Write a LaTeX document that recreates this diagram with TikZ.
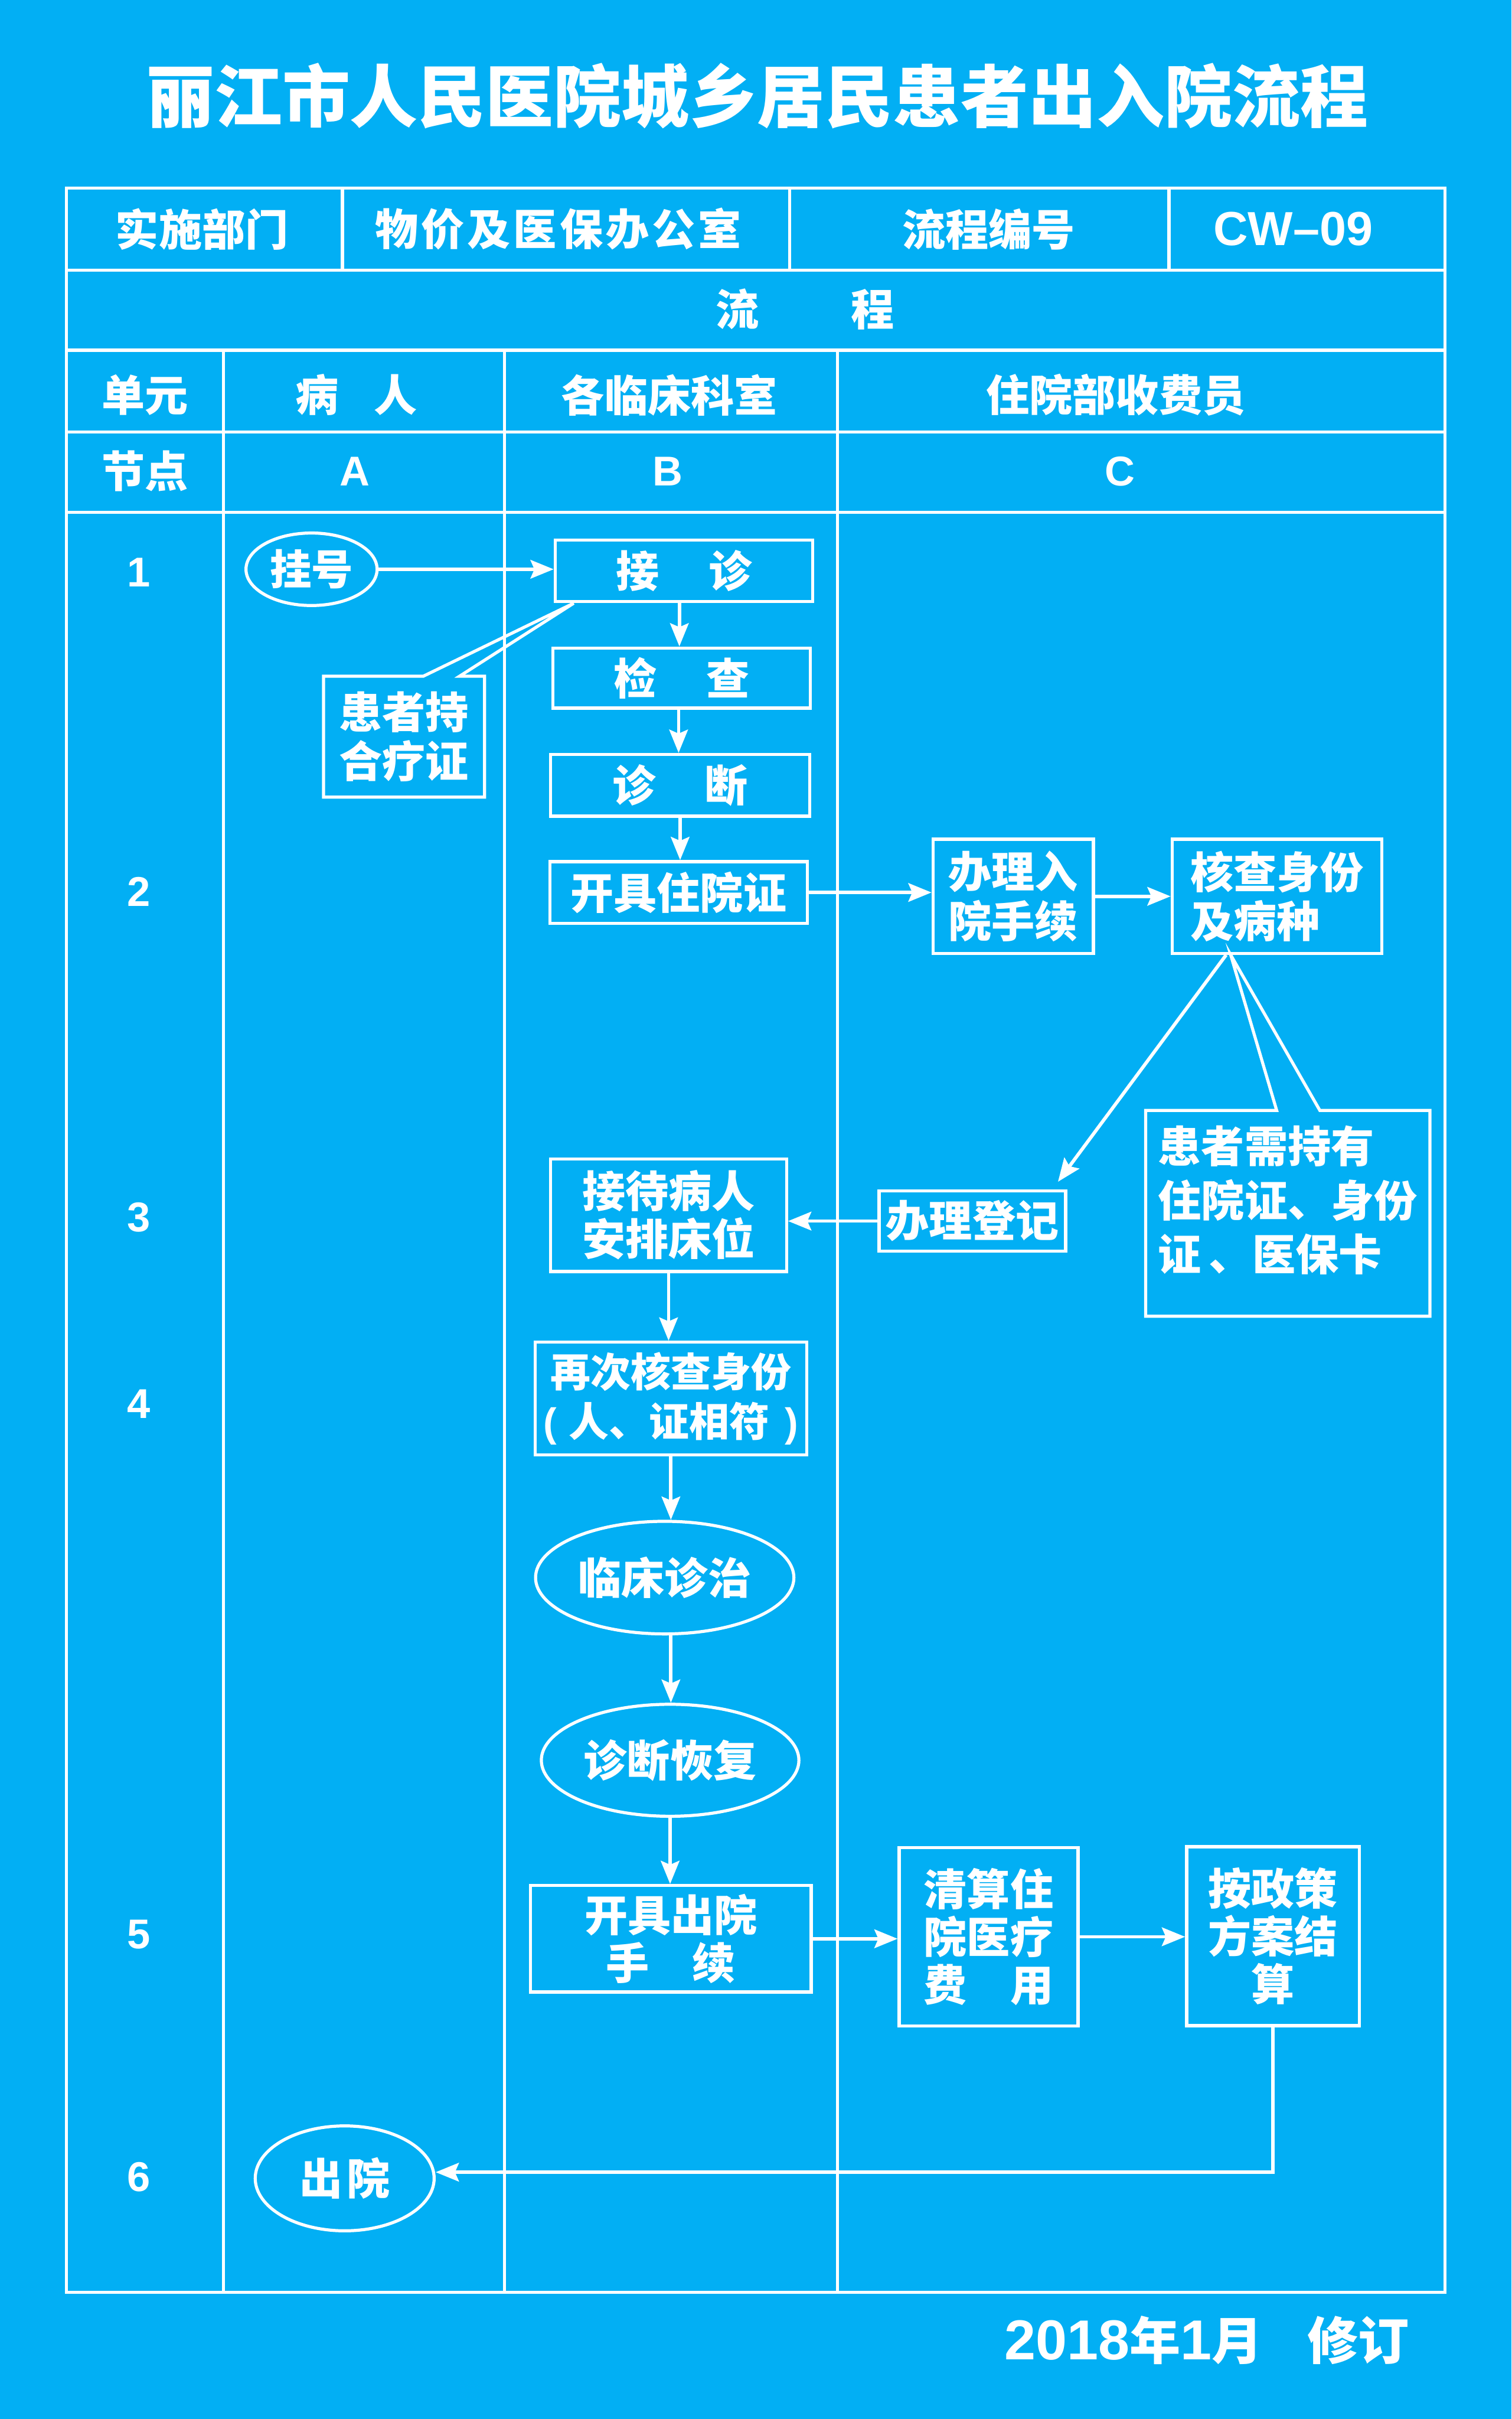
\documentclass[tikz,border=0pt]{standalone}
\usepackage{fontspec}
\setmainfont{Liberation Sans}
\newfontfamily\cjk{Noto Sans CJK SC}
\usetikzlibrary{arrows.meta,shapes.geometric,calc}
\definecolor{bg}{RGB}{2,175,244}
\tikzset{
  ln/.style={draw=white,line width=2pt},
  arr/.style={draw=white,line width=2.2pt,-{Stealth[length=15pt,width=12pt,inset=2.5pt]}},
  hd/.style={text=white,font=\cjk\bfseries\fontsize{28}{32}\selectfont,inner sep=0pt,align=center},
  lat/.style={text=white,font=\bfseries\fontsize{27}{31}\selectfont,inner sep=0pt},
  box/.style={hd,draw=white,line width=2pt,rectangle},
  oval/.style={hd,draw=white,line width=2pt,ellipse},
}
\begin{document}
\begin{tikzpicture}[x=1pt,y=-1pt]
\fill[bg] (0,0) rectangle (980,1568);
\useasboundingbox (0,0) rectangle (980,1568);

% title
\node[hd,font=\cjk\bfseries\fontsize{44}{48}\selectfont] (title) at (491,62) {丽江市人民医院城乡居民患者出入院流程};

% table
\draw[ln] (43,122) rectangle (937,1486);
\foreach \y in {175,227,280,332} \draw[ln] (43,\y) -- (937,\y);
\foreach \x in {222,512,758} \draw[ln] (\x,122) -- (\x,175);
\foreach \x in {145,327,543} \draw[ln] (\x,227) -- (\x,1486);

% header texts
\node[hd] (h11) at (131,148.5) {实施部门};
\node[hd,font=\cjk\bfseries\fontsize{28}{32}\selectfont\addfontfeature{LetterSpace=7}] (h12) at (362,148.5) {物价及医保办公室};
\node[hd] (h13) at (641,148.5) {流程编号};
\node[lat,font=\bfseries\fontsize{31}{35}\selectfont] (h14) at (838.5,148.5) {CW–09};
\node[hd] (h2) at (522,200.5) {流\hspace{60pt}程};
\node[hd] (h31) at (94,256) {单元};
\node[hd] (h32) at (231,256) {病\hspace{23pt}人};
\node[hd] (h33) at (434,256) {各临床科室};
\node[hd] (h34) at (723.5,256) {住院部收费员};
\node[hd] (h41) at (94,305.5) {节点};
\node[lat] (h42) at (230,305.5) {A};
\node[lat] (h43) at (433,305.5) {B};
\node[lat] (h44) at (726,305.5) {C};

% row numbers
\node[lat] (r1) at (90,371) {1};
\node[lat] (r2) at (90,578) {2};
\node[lat] (r3) at (90,789) {3};
\node[lat] (r4) at (90,910) {4};
\node[lat] (r5) at (90,1254) {5};
\node[lat] (r6) at (90,1411) {6};

% flow nodes
\node[oval,minimum width=85pt,minimum height=47pt,font=\cjk\bfseries\fontsize{27}{31}\selectfont] (guahao) at (202,369) {挂号};
\node[box,minimum width=167pt,minimum height=40pt] (jiezhen) at (443.5,370) {接\hspace{32pt}诊};
\node[box,minimum width=167pt,minimum height=39pt] (jiancha) at (442,439.5) {检\hspace{32pt}查};
\node[box,minimum width=168pt,minimum height=40pt] (zhenduan) at (441,509) {诊\hspace{32pt}断};
\node[box,minimum width=167pt,minimum height=40pt] (kaiju) at (440,578.5) {开具住院证};
\node[hd,minimum width=104pt,minimum height=78pt] (note1) at (262,477.5) {患者持\\合疗证};

\node[box,minimum width=104pt,minimum height=74pt] (ruyuan) at (657,581) {办理入\\院手续};
\node[box,minimum width=136pt,minimum height=74pt,align=left] (hecha) at (828,581) {核查身份\\及病种};
\node[box,minimum width=121pt,minimum height=39pt] (dengji) at (630.5,791.5) {办理登记};
\node[minimum width=184pt,minimum height=133pt,inner sep=0pt] (note2) at (835,786.5) {};
\node[hd,align=left,font=\cjk\bfseries\fontsize{28}{35}\selectfont] (note2t) at (835,778) {患者需持有\\住院证、身份\\证\hspace{5pt}、医保卡};

\node[box,minimum width=153pt,minimum height=73pt,font=\cjk\bfseries\fontsize{28}{31}\selectfont] (jiedai) at (433.5,787.7) {接待病人\\安排床位};
\node[box,minimum width=176pt,minimum height=73pt,font=\cjk\bfseries\fontsize{26}{32}\selectfont] (zaici) at (435,906.5) {再次核查身份\\{\fontspec{Liberation Sans}\bfseries(}\hspace{8pt}人、证相符\hspace{10pt}{\fontspec{Liberation Sans}\bfseries)}};
\node[oval,minimum width=167.5pt,minimum height=73pt] (linchuang) at (431,1022.6) {临床诊治};
\node[oval,minimum width=167pt,minimum height=72.6pt] (huifu) at (434.5,1141) {诊断恢复};
\node[box,minimum width=182pt,minimum height=69pt,font=\cjk\bfseries\fontsize{28}{31}\selectfont] (chuyuanshou) at (435,1256.7) {开具出院\\手\hspace{28pt}续};
\node[box,minimum width=116pt,minimum height=115.6pt,font=\cjk\bfseries\fontsize{28}{31}\selectfont] (qingsuan) at (641,1255.4) {清算住\\院医疗\\费\hspace{28pt}用};
\node[box,minimum width=112pt,minimum height=116pt,font=\cjk\bfseries\fontsize{28}{31}\selectfont] (anzheng) at (825.4,1255) {按政策\\方案结\\算};
\node[oval,minimum width=116pt,minimum height=68pt,font=\cjk\bfseries\fontsize{28}{32}\selectfont\addfontfeature{LetterSpace=10}] (chuyuan) at (223.5,1412) {出院};

% callout outlines
\draw[ln,line join=miter] (note1.north west) -- ++(64.7,0) -- ([xshift=13pt]jiezhen.south west)
  -- ([xshift=-16.2pt]note1.north east) -- (note1.north east) -- (note1.south east)
  -- (note1.south west) -- cycle;
\draw[ln,line join=miter] (note2.north west) -- ++(85,0) -- ([xshift=-30pt]hecha.south)
  -- ([xshift=-71.4pt]note2.north east) -- (note2.north east) -- (note2.south east)
  -- (note2.south west) -- cycle;

% connectors
\draw[arr] (guahao.east) -- (guahao.east -| jiezhen.west);
\draw[arr] ([xshift=-3pt]jiezhen.south) -- ([xshift=-3pt]jiezhen.south |- jiancha.north);
\draw[arr] ([xshift=-2pt]jiancha.south) -- ([xshift=-2pt]jiancha.south |- zhenduan.north);
\draw[arr] (zhenduan.south) -- (zhenduan.south |- kaiju.north);
\draw[arr] (kaiju.east) -- (kaiju.east -| ruyuan.west);
\draw[arr] (ruyuan.east) -- (hecha.west);
\draw[arr] ([xshift=-33pt]hecha.south) -- ([xshift=-6pt,yshift=5pt]dengji.north east);
\draw[arr] (dengji.west) -- (dengji.west -| jiedai.east);
\draw[arr] (jiedai.south) -- (jiedai.south |- zaici.north);
\draw[arr] (zaici.south) -- (zaici.south |- linchuang.north);
\draw[arr] ([xshift=4pt]linchuang.south) -- ([xshift=4pt]linchuang.south |- huifu.north);
\draw[arr] (huifu.south) -- (huifu.south |- chuyuanshou.north);
\draw[arr] (chuyuanshou.east) -- (chuyuanshou.east -| qingsuan.west);
\draw[arr] (qingsuan.east) -- (qingsuan.east -| anzheng.west);
\draw[arr] (anzheng.south) |- ([yshift=4pt]chuyuan.east);

% footer
\node[anchor=west,text=white,inner sep=0pt] (footer) at (651,1517)
  {\bfseries\fontsize{36.5}{40}\selectfont 2018{\cjk\bfseries\fontsize{33}{36}\selectfont 年}1{\cjk\bfseries\fontsize{33}{36}\selectfont 月}\hspace{29pt}{\cjk\bfseries\fontsize{33}{36}\selectfont 修订}};
\end{tikzpicture}
\end{document}
